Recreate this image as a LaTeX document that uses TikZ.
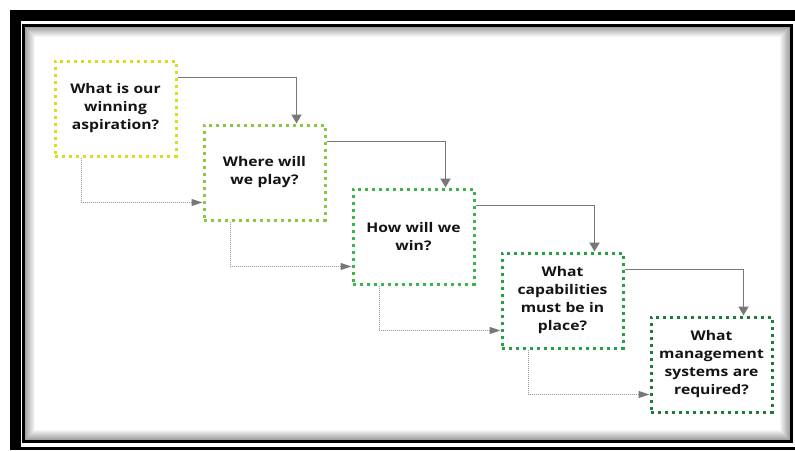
\documentclass[tikz,border=0pt]{standalone}
\usepackage{fontspec}
\newfontfamily\boxfont{Open Sans}[FakeStretch=1.18]
\usetikzlibrary{arrows.meta,calc}
\definecolor{cA}{HTML}{D4E01E}
\definecolor{cB}{HTML}{8DC63F}
\definecolor{cC}{HTML}{3CB54A}
\definecolor{cD}{HTML}{26A046}
\definecolor{cE}{HTML}{1E7B3E}
\definecolor{arrowgray}{HTML}{787878}
\definecolor{dotgray}{HTML}{9A9A9A}
\definecolor{txt}{HTML}{141414}
\tikzset{
  qbox/.style={draw=#1, line width=3pt, dash pattern=on 2.6pt off 4.4pt,
    minimum width=121pt, minimum height=95pt, inner sep=0pt, fill=white,
    align=center, text width=115pt, text=txt,
    font=\boxfont\bfseries\fontsize{13.3}{18}\selectfont},
  solidarrow/.style={draw=arrowgray, line width=1.8pt,
    -{Triangle[width=10pt,length=9pt]}},
  dotarrow/.style={draw=dotgray, line width=1.1pt, dash pattern=on 1pt off 1pt,
    -{Triangle[width=7pt,length=11pt,color=arrowgray,fill=arrowgray]}}
}
\begin{document}
\begin{tikzpicture}[x=1pt,y=-1pt]
\useasboundingbox (0,0) rectangle (795,450);
\fill[white] (0,0) rectangle (795,450);
% outer thick frame
\fill[black] (9.5,10) rectangle (795,450);
\fill[white] (20.5,21) rectangle (795,446.5);
% inner frame line
\draw[black, line width=3pt] (23.5,25.5) rectangle (791.5,441.5);
% inner shadow
\foreach \i in {1,...,10}{
  \pgfmathsetmacro{\op}{0.4*(1-\i/11)}
  \draw[black, opacity=\op, line width=1pt]
    (25+\i-0.5,27+\i-0.5) rectangle (790-\i+0.5,440-\i+0.5);
}
% boxes
\node[qbox=cA] (b1) at (115.5,108.5) {What is our\\winning\\aspiration?};
\node[qbox=cB] (b2) at (264.5,172.5) {Where will\\we play?};
\node[qbox=cC] (b3) at (413.5,236.5) {How will we\\win?};
\node[qbox=cD] (b4) at (562.5,300.5) {What\\capabilities\\must be in\\place?};
\node[qbox=cE] (b5) at (711.5,364.5) {What\\management\\systems are\\required?};
% connectors
\foreach \a/\b in {b1/b2,b2/b3,b3/b4,b4/b5}{
  \draw[solidarrow] ([yshift=-18pt]\a.north east) -| ([xshift=-30pt]\b.north east);
  \draw[dotarrow] ([xshift=28pt]\a.south west) |- ([yshift=19pt]\b.south west);
}
\end{tikzpicture}
\end{document}
